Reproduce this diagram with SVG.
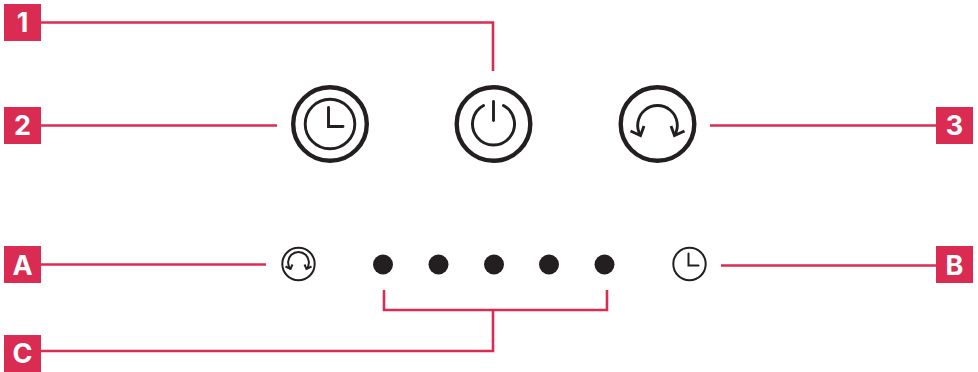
<svg xmlns="http://www.w3.org/2000/svg" width="978" height="372" viewBox="0 0 978 372">
<style>
.box{fill:#da2c52}
.lbl{fill:#fff;font-family:"Inter","Liberation Sans",sans-serif;font-weight:700;font-size:27px;text-anchor:middle}
.con{fill:none;stroke:#da2c52;stroke-width:2.6}
.big{fill:none;stroke:#231f20;stroke-width:4.4}
.mid{fill:none;stroke:#231f20;stroke-width:2.9}
.sm{fill:none;stroke:#231f20;stroke-width:2}
.dot{fill:#231f20}
</style>
<rect width="978" height="372" fill="#fff"/>
<g id="connectors">
<path class="con" d="M41 22.500H493V71"/>
<path class="con" d="M41 125.500H277"/>
<path class="con" d="M710 125.500H936"/>
<path class="con" d="M41 264.500H266"/>
<path class="con" d="M721 265.500H936"/>
<path class="con" d="M384 290V310H607V290"/>
<path class="con" d="M493 310V351H41"/>
</g>
<g id="badge-1"><rect class="box" x="4" y="4" width="37" height="37"/><text class="lbl" x="22.500" y="32">1</text></g>
<g id="badge-2"><rect class="box" x="4" y="107" width="37" height="37"/><text class="lbl" x="22.500" y="135">2</text></g>
<g id="badge-3"><rect class="box" x="936" y="107" width="37" height="37"/><text class="lbl" x="954.500" y="135">3</text></g>
<g id="badge-A"><rect class="box" x="4" y="246" width="37" height="37"/><text class="lbl" x="22.500" y="274.500">A</text></g>
<g id="badge-B"><rect class="box" x="936" y="246" width="37" height="37"/><text class="lbl" x="954.500" y="274.500">B</text></g>
<g id="badge-C"><rect class="box" x="4" y="335" width="37" height="37"/><text class="lbl" x="22.500" y="363">C</text></g>
<g id="button-clock">
<circle class="big" cx="330" cy="124" r="36.800"/>
<circle class="mid" cx="330" cy="124" r="24.800"/>
<path class="mid" d="M328.500 107.500V126.500H343" stroke-linecap="round"/>
</g>
<g id="button-power">
<circle class="big" cx="493.500" cy="124" r="36.800"/>
<path class="mid" d="M483.500 105.500A21 21 0 1 0 503.500 105.500" stroke-linecap="round"/>
<path class="mid" d="M493.500 101.500V120.500" stroke-linecap="round"/>
</g>
<g id="button-restart">
<circle class="big" cx="657.500" cy="124" r="36.800"/>
<path class="mid" d="M640.500 135.500A19.800 19.800 0 1 1 674.500 135.500"/>
<path class="mid" d="M630.500 131L640.500 135.500L644 126M671 126L674.500 135.500L684.500 131"/>
</g>
<g id="indicator-restart">
<circle class="sm" cx="298.500" cy="264" r="16.200"/>
<path class="sm" stroke-width="1.600" d="M290.500 269A10.400 10.400 0 1 1 306.500 269"/>
<path class="sm" stroke-width="1.600" d="M285.500 266.500L290.500 269L292.500 264.500M304.500 264.500L306.500 269L311.500 266.500"/>
</g>
<g id="indicator-clock">
<circle class="sm" cx="689.500" cy="264" r="16.200"/>
<path class="sm" d="M688.500 253.500V265.500H698.500" stroke-linecap="round"/>
</g>
<g id="leds">
<circle class="dot" cx="383" cy="264.500" r="10"/>
<circle class="dot" cx="438.500" cy="264.500" r="10"/>
<circle class="dot" cx="494" cy="264.500" r="10"/>
<circle class="dot" cx="549" cy="264.500" r="10"/>
<circle class="dot" cx="604.500" cy="264.500" r="10"/>
</g>
</svg>
